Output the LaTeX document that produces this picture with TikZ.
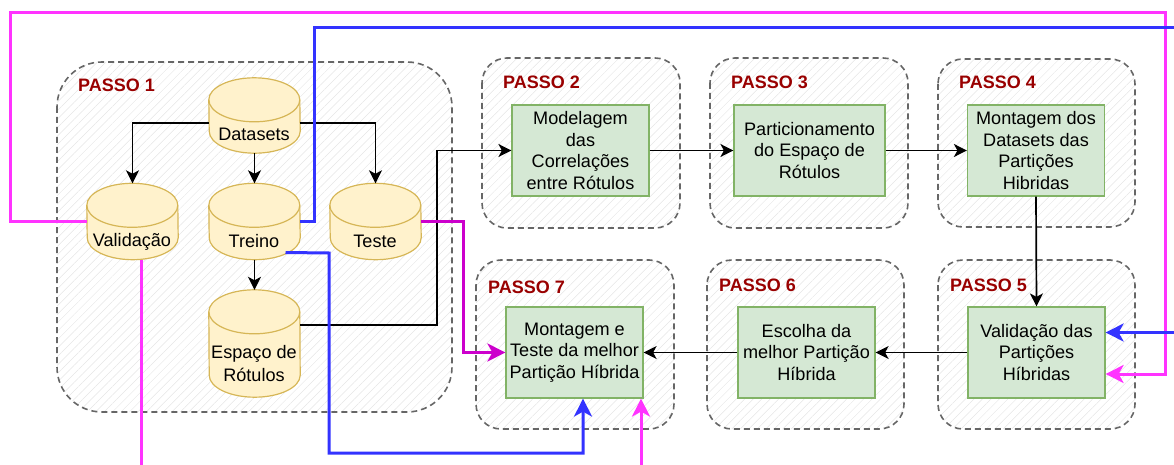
\documentclass[tikz,border=0pt]{standalone}
\usepackage{fontspec}
\setmainfont{Liberation Sans}
\usetikzlibrary{arrows.meta,patterns.meta}
\definecolor{corBanco}{HTML}{FFF2CC}
\definecolor{bordaBanco}{HTML}{D6B656}
\definecolor{corCaixa}{HTML}{D5E8D4}
\definecolor{bordaCaixa}{HTML}{82B366}
\definecolor{corPasso}{HTML}{990000}
\definecolor{corRosa}{HTML}{FF33FF}
\definecolor{corRoxo}{HTML}{CC00CC}
\definecolor{corAzul}{HTML}{3333FF}
\begin{document}
\begin{tikzpicture}[x=1pt, y=-1pt, font=\fontsize{18.1}{21.5}\selectfont, line join=miter, >={Stealth[length=13pt,width=13pt,inset=3.5pt]},
	grupo/.style={draw=black!60, line width=1.6pt, dash pattern=on 6pt off 4pt, rounded corners=#1, pattern={Lines[angle=45,distance=6pt,line width=.5pt]}, pattern color=black!10},
	rotulo/.style={anchor=west, text=corPasso, inner sep=0pt, font=\fontsize{18}{21.5}\selectfont\bfseries},
	caixa/.style={draw=bordaCaixa, fill=corCaixa, line width=1.2pt, align=center, inner sep=0pt, minimum width=137pt, minimum height=91pt},
	banco/.style={inner sep=0pt, minimum width=91pt},
	linhaBanco/.style={draw=bordaBanco, line width=1.2pt},
	nomeBanco/.style={align=center, inner sep=0pt},
	preta/.style={draw=black, line width=1.7pt, ->},
	rosa/.style={draw=corRosa, line width=3pt},
	roxa/.style={draw=corRoxo, line width=3pt},
	azul/.style={draw=corAzul, line width=3pt},
	pontaCor/.style={-{Stealth[length=18pt,width=18pt,inset=5pt]}}]
	\useasboundingbox (0,0) rectangle (1174,465);
	% grupos dos passos
	\path[grupo=45pt] (57,62) rectangle (452,412);
	\foreach \xa/\ya/\xb/\yb in {482/58/680/228, 710/58/908/228, 938/59/1135/227, 938/260/1135/429, 707/260/904/429, 476/260/674/429}
		\path[grupo=25pt] (\xa,\ya) rectangle (\xb,\yb);
	\foreach \nome/\xr/\yr/\num in {r1/78/85/1, r2/503/82/2, r3/731/82/3, r4/959/82/4, r5/950/285/5, r6/719/285/6, r7/488/287/7}
		\node[rotulo] (\nome) at (\xr,\yr) {PASSO \num};
	% bancos
	\foreach \nome/\cx/\cy/\alt/\dy/\txt in {datasets/254.5/115.5/75/19/Datasets, validacao/132.5/221.5/76/20/Validação, treino/254.5/221.5/76/20/Treino, teste/375.5/221.5/76/20/Teste, espaco/254.5/343.5/107/20/{Espaço de\\[1pt]Rótulos}} {
		\node[banco, minimum height=\alt pt] (\nome) at (\cx,\cy) {};
		\draw[linhaBanco, fill=corBanco] ([yshift=-22pt]\nome.north west) arc (180:0:45.5pt and 22pt) -- ([yshift=22pt]\nome.south east) arc (0:-180:45.5pt and 22pt) -- cycle;
		\draw[linhaBanco] ([yshift=-22pt]\nome.north west) arc (180:360:45.5pt and 22pt);
		\node[nomeBanco] at ([xshift=-.5pt,yshift=-\dy pt]\nome.center) {\txt};
	}
	% caixas
	\node[caixa] (modelagem) at (580.5,150.5) {Modelagem\\das\\Correlações\\entre Rótulos};
	\node[caixa, minimum width=151pt] (particionamento) at (809.5,150.5) {Particionamento\\do Espaço de\\Rótulos};
	\node[caixa] (montagem) at (1036,150.5) {Montagem dos\\Datasets das\\Partições\\Hibridas};
	\node[caixa] (validacaoHib) at (1036.5,352.5) {Validação das\\Partições\\Híbridas};
	\node[caixa] (escolha) at (806.5,352.5) {Escolha da\\melhor Partição\\Híbrida};
	\node[caixa] (teste7) at (574.5,352.5) {Montagem e\\Teste da melhor\\Partição Híbrida};
	% pontas soltas
	\coordinate (rosaBaixoA) at (141,465);
	\coordinate (rosaBaixoB) at (641,465);
	\coordinate (azulFimA) at (1174,28);
	\coordinate (azulFimB) at (1174,332.5);
	% ligacoes pretas
	\draw[preta] ([yshift=-7.5pt]datasets.west) -| (validacao.north);
	\draw[preta] ([yshift=-7.5pt]datasets.east) -| (teste.north);
	\draw[preta] (datasets.south) -- (treino.north);
	\draw[preta] (treino.south) -- (espaco.north);
	\draw[preta] ([yshift=18.5pt]espaco.east) -- (437,325) |- (modelagem.west);
	\draw[preta] (modelagem.east) -- (particionamento.west);
	\draw[preta] (particionamento.east) -- (montagem.west);
	\draw[preta] (montagem.south) -- (validacaoHib.north);
	\draw[preta] (validacaoHib.west) -- (escolha.east);
	\draw[preta] (escolha.west) -- (teste7.east);
	% ligacoes coloridas
	\draw[rosa, pontaCor] (validacao.west) -- (10,221.5) -- (10,13) -- (1165,13) -- (1165,374) -- ([yshift=-21.5pt]validacaoHib.east);
	\draw[rosa] (validacao.south -| rosaBaixoA) -- (rosaBaixoA);
	\draw[rosa, pontaCor] (rosaBaixoB) -- (rosaBaixoB |- teste7.south);
	\draw[roxa, pontaCor] (teste.east) -- (463,221.5) |- (teste7.west);
	\draw[azul] (treino.east) -- (314,221.5) |- (azulFimA);
	\draw[azul, pontaCor] (azulFimB) -- ([yshift=20pt]validacaoHib.east);
	\draw[azul, pontaCor] ([xshift=31pt,yshift=-31pt]treino.center) -- (329,253) -- (329,453) -| ([xshift=8.5pt]teste7.south);
\end{tikzpicture}
\end{document}
